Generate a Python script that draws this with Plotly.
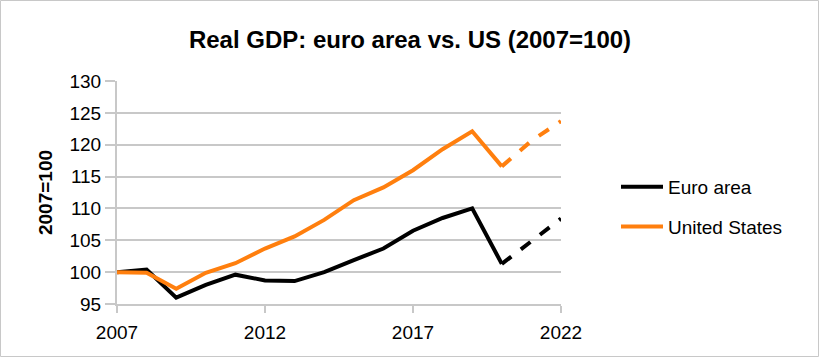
import plotly.graph_objects as go

years = list(range(2007, 2023))
euro_area = [100.0, 100.4, 96.0, 98.0, 99.6, 98.7, 98.6, 100.0, 101.9, 103.7, 106.5, 108.5, 110.0, 101.3, 104.8, 108.4]
united_states = [100.0, 99.9, 97.4, 99.9, 101.4, 103.7, 105.6, 108.2, 111.3, 113.3, 116.0, 119.3, 122.1, 116.6, 120.6, 123.7]
forecast_start = 2020
y_ticks = [95, 100, 105, 110, 115, 120, 125, 130]
x_ticks = [2007, 2012, 2017, 2022]

W, H = 825, 358
L, R, T, B = 117, 264, 81, 54
pw, ph = W - L - R, H - T - B

fig = go.Figure()
series = [("Euro area", euro_area, "#000000"), ("United States", united_states, "#ff7f0e")]
for name, vals, col in series:
    i = years.index(forecast_start)
    fig.add_trace(go.Scatter(x=years[:i + 1], y=vals[:i + 1], mode="lines", name=name,
                             line=dict(color=col, width=4), legendgroup=name))
    fig.add_trace(go.Scatter(x=years[i:], y=vals[i:], mode="lines", name=name, showlegend=False,
                             line=dict(color=col, width=4, dash="dash"), legendgroup=name))

# outer border (pixel coords converted to paper coords)
def px(x):
    return (x - L) / pw

def py(y):
    return (H - B - y) / ph

fig.add_shape(type="rect", xref="paper", yref="paper",
              x0=px(0.5), x1=px(818.5), y0=py(356.5), y1=py(0.5),
              line=dict(color="#c8c8c8", width=1), layer="below")

fig.update_layout(
    width=W, height=H,
    margin=dict(l=L, r=R, t=T, b=B),
    paper_bgcolor="white", plot_bgcolor="white",
    font=dict(family="Liberation Sans, Arial, Helvetica, sans-serif", color="#000000", size=19),
    title=dict(text="<b>Real GDP: euro area vs. US (2007=100)</b>", x=410 / W, xanchor="center",
               xref="container", y=1 - 40 / H, yanchor="middle", font=dict(size=24)),
    xaxis=dict(range=[2007, 2022], tickvals=x_ticks, ticktext=[str(v) for v in x_ticks],
               showgrid=False, showline=True, linecolor="#c8c8c8", linewidth=2,
               ticks="outside", ticklen=7, tickcolor="#c8c8c8", tickwidth=2,
               tickfont=dict(size=19), zeroline=False, ticklabelstandoff=3),
    yaxis=dict(range=[95, 130], tickvals=y_ticks, showgrid=True, gridcolor="#c8c8c8", gridwidth=2,
               showline=True, linecolor="#c8c8c8", linewidth=2,
               ticks="outside", ticklen=10, tickcolor="#c8c8c8", tickwidth=2,
               tickfont=dict(size=19), zeroline=False,
               title=dict(text="<b>2007=100</b>", font=dict(size=19), standoff=12)),
    legend=dict(x=px(616), y=py(168), xanchor="left", yanchor="top",
                font=dict(size=19), itemwidth=42, tracegroupgap=12, bgcolor="rgba(0,0,0,0)"),
    showlegend=True,
)

fig.write_html("out.html", config={"displayModeBar": False},
               post_script="document.body.style.margin='0px';")
